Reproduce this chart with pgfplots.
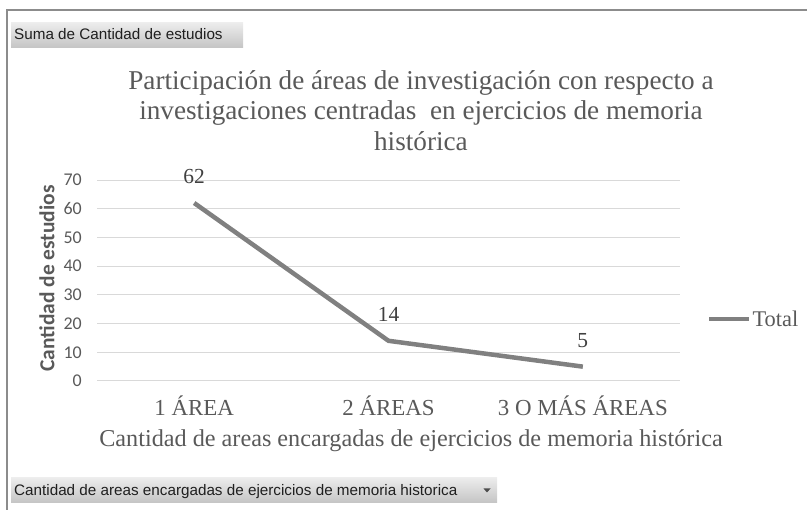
\documentclass[border=0pt]{standalone}
\usepackage{fontspec}
\setmainfont{Liberation Serif}
\newfontfamily\carlito{Carlito}
\newfontfamily\libsans{Liberation Sans}
\usepackage{pgfplots}
\pgfplotsset{compat=1.18}
\definecolor{txtgray}{HTML}{595959}
\definecolor{lblgray}{HTML}{404040}
\definecolor{linegray}{HTML}{808080}
\definecolor{gridgray}{HTML}{D9D9D9}
\definecolor{bordergray}{HTML}{8C8C8C}
\definecolor{btntop}{HTML}{ECECEC}
\definecolor{btnbot}{HTML}{C4C4C4}
\begin{document}
\begin{tikzpicture}
\useasboundingbox (0bp,0bp) rectangle (807bp,510bp);
% chart border
\draw[bordergray, line width=1.5bp] (7bp,0bp) -- (7bp,500bp) -- (807bp,500bp);
% pivot buttons
\shade[top color=btntop, bottom color=btnbot] (11bp,462bp) rectangle (243bp,487bp);
\node[anchor=base west, inner sep=0pt, font=\libsans\fontsize{15.3}{17}\selectfont, text=black!88] at (14bp,470bp) {Suma de Cantidad de estudios};
\shade[top color=btntop, bottom color=btnbot] (11bp,7bp) rectangle (497bp,32bp);
\node[anchor=base west, inner sep=0pt, font=\libsans\fontsize{15.3}{17}\selectfont, text=black!88] at (14bp,15bp) {Cantidad de areas encargadas de ejercicios de memoria historica};
\fill[black!70] (483.5bp,21.5bp) -- (490.5bp,21.5bp) -- (487bp,17.5bp) -- cycle;
\begin{axis}[
  at={(97bp,129bp)}, anchor=south west,
  width=583bp, height=201bp, scale only axis,
  xmin=-0.5, xmax=2.5, ymin=0, ymax=70,
  xtick={0,1,2},
  xticklabels={1 ÁREA, 2 ÁREAS, 3 O MÁS ÁREAS},
  ytick={0,10,20,30,40,50,60,70},
  major tick length=0pt,
  axis line style={draw=none},
  ymajorgrids,
  grid style={gridgray, line width=1bp},
  clip=false,
  /pgf/number format/assume math mode=true,
  yticklabel style={font=\carlito\fontsize{18}{20}\selectfont, text=txtgray, anchor=east, inner sep=0pt, xshift=-15bp},
  xticklabel style={font=\fontsize{23}{25}\selectfont, text=txtgray, anchor=base, inner sep=0pt, yshift=-35bp},
  xlabel={Cantidad de areas encargadas de ejercicios de memoria histórica},
  every axis x label/.style={at={(axis description cs:0.5386,-0.3234)}, anchor=base, inner sep=0pt, font=\fontsize{24.3}{27}\selectfont, text=txtgray},
  ylabel={Cantidad de estudios},
  every axis y label/.style={at={(axis description cs:-0.0858,0.51)}, anchor=center, rotate=90, inner sep=0pt, font=\carlito\bfseries\fontsize{21.5}{24}\selectfont, text=txtgray},
  title={Participación de áreas de investigación con respecto a\\investigaciones centradas \ en ejercicios de memoria\\histórica},
  every axis title/.style={at={(axis description cs:0.5557,1.545)}, anchor=north, inner sep=0pt, align=center, font=\fontsize{27.3}{30.5}\selectfont, text=txtgray},
  nodes near coords,
  every node near coord/.style={font=\fontsize{21.5}{24}\selectfont, text=lblgray, anchor=south, inner sep=0pt, yshift=17bp},
  legend style={at={(axis description cs:1.046,0.308)}, anchor=west, draw=none, fill=none, inner sep=0pt, font=\fontsize{22.5}{24}\selectfont, text=txtgray, nodes={inner xsep=1bp, inner ysep=0pt}},
  legend image code/.code={\draw[#1] (0bp,0bp) -- (40bp,0bp);},
]
\addplot[linegray, line width=4.5bp, mark=none] coordinates {(0,62) (1,14) (2,5)};
\addlegendentry{Total}
\end{axis}
\end{tikzpicture}
\end{document}
